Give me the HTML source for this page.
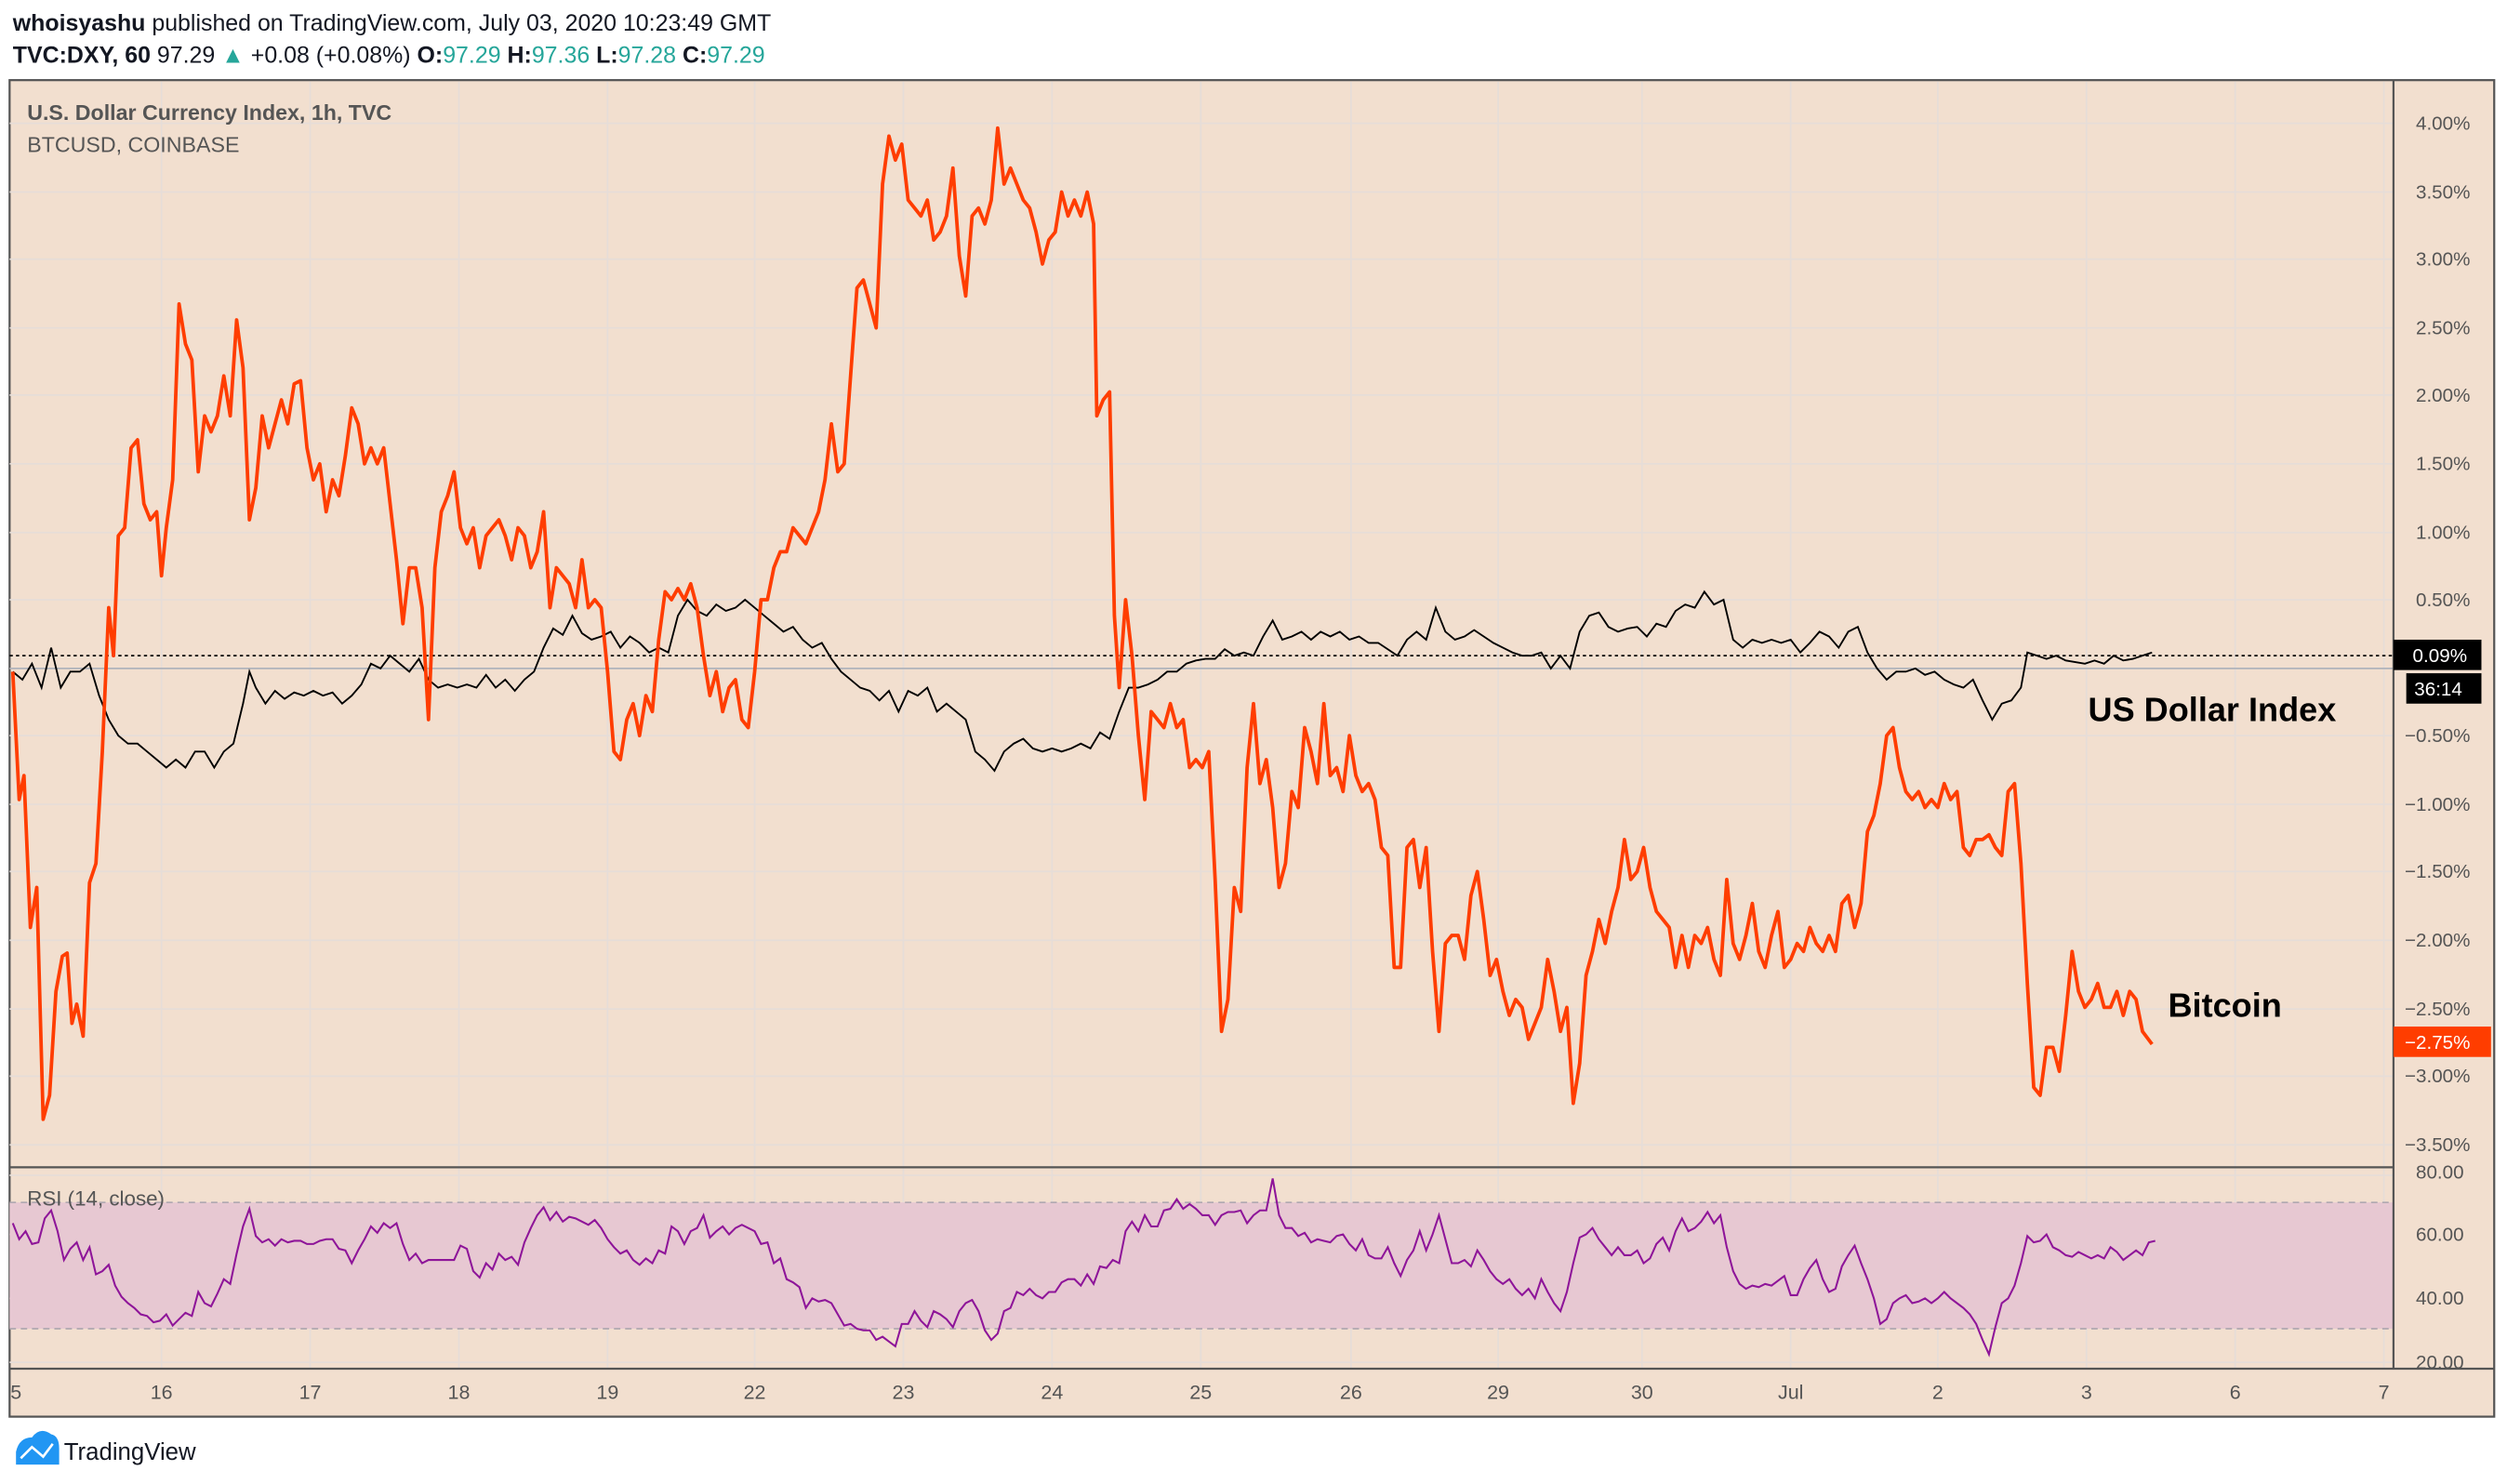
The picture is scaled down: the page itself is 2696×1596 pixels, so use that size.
<!DOCTYPE html>
<html><head><meta charset="utf-8"><style>
html,body{margin:0;padding:0;background:#fff;}
svg{display:block;}
text{font-family:"Liberation Sans",sans-serif;}
</style></head><body>
<svg width="2696" height="1596" viewBox="0 0 1568 928" xmlns="http://www.w3.org/2000/svg">
<rect width="1568" height="928" fill="#fff"/>
<text x="8" y="19" font-size="14.5" fill="#131722"><tspan font-weight="bold">whoisyashu</tspan> published on TradingView.com, July 03, 2020 10:23:49 GMT</text>
<text x="8" y="39" font-size="14.5" fill="#131722"><tspan font-weight="bold">TVC:DXY, 60</tspan> 97.29 <tspan fill="#26a69a">▲</tspan> +0.08 (+0.08%) <tspan font-weight="bold">O:</tspan><tspan fill="#26a69a">97.29</tspan> <tspan font-weight="bold">H:</tspan><tspan fill="#26a69a">97.36</tspan> <tspan font-weight="bold">L:</tspan><tspan fill="#26a69a">97.28</tspan> <tspan font-weight="bold">C:</tspan><tspan fill="#26a69a">97.29</tspan></text>
<rect x="6" y="50" width="1554" height="836" fill="#f2dfcf" stroke="#555" stroke-width="1.3"/>
<g stroke="#e6ddd8" stroke-width="1">
<line x1="101" y1="51" x2="101" y2="856"/><line x1="194" y1="51" x2="194" y2="856"/><line x1="287" y1="51" x2="287" y2="856"/><line x1="380" y1="51" x2="380" y2="856"/><line x1="472" y1="51" x2="472" y2="856"/><line x1="565" y1="51" x2="565" y2="856"/><line x1="658" y1="51" x2="658" y2="856"/><line x1="751" y1="51" x2="751" y2="856"/><line x1="845" y1="51" x2="845" y2="856"/><line x1="937" y1="51" x2="937" y2="856"/><line x1="1027" y1="51" x2="1027" y2="856"/><line x1="1120" y1="51" x2="1120" y2="856"/><line x1="1212" y1="51" x2="1212" y2="856"/><line x1="1305" y1="51" x2="1305" y2="856"/><line x1="1398" y1="51" x2="1398" y2="856"/><line x1="1491" y1="51" x2="1491" y2="856"/>
<line x1="6" y1="77" x2="1497" y2="77"/><line x1="6" y1="120" x2="1497" y2="120"/><line x1="6" y1="162" x2="1497" y2="162"/><line x1="6" y1="205" x2="1497" y2="205"/><line x1="6" y1="247" x2="1497" y2="247"/><line x1="6" y1="290" x2="1497" y2="290"/><line x1="6" y1="333" x2="1497" y2="333"/><line x1="6" y1="375" x2="1497" y2="375"/><line x1="6" y1="460" x2="1497" y2="460"/><line x1="6" y1="503" x2="1497" y2="503"/><line x1="6" y1="545" x2="1497" y2="545"/><line x1="6" y1="588" x2="1497" y2="588"/><line x1="6" y1="631" x2="1497" y2="631"/><line x1="6" y1="673" x2="1497" y2="673"/><line x1="6" y1="716" x2="1497" y2="716"/>
<line x1="6" y1="735" x2="1497" y2="735"/><line x1="6" y1="772" x2="1497" y2="772"/><line x1="6" y1="812" x2="1497" y2="812"/><line x1="6" y1="852" x2="1497" y2="852"/>
</g>
<line x1="6" y1="418" x2="1497" y2="418" stroke="#b0b3bb" stroke-width="1"/>
<line x1="6" y1="410" x2="1497" y2="410" stroke="#000" stroke-width="1" stroke-dasharray="2,2"/>
<text x="17" y="75" font-size="13.5" font-weight="bold" fill="#555">U.S. Dollar Currency Index, 1h, TVC</text>
<text x="17" y="95" font-size="13.5" fill="#555">BTCUSD, COINBASE</text>
<!-- RSI pane -->
<line x1="6" y1="730" x2="1497" y2="730" stroke="#555" stroke-width="1.3"/>
<rect x="6" y="752" width="1491" height="79" fill="#e7c8d2"/>
<line x1="6" y1="752" x2="1497" y2="752" stroke="#b0a8b0" stroke-dasharray="4,3"/>
<line x1="6" y1="831" x2="1497" y2="831" stroke="#b0a8b0" stroke-dasharray="4,3"/>
<text x="17" y="754" font-size="13" fill="#555">RSI (14, close)</text>
<line x1="6" y1="856" x2="1560" y2="856" stroke="#555" stroke-width="1.3"/>
<line x1="1497" y1="50" x2="1497" y2="856" stroke="#555" stroke-width="1.3"/>
<polyline fill="none" stroke="#8e1599" stroke-width="1.2" points="8,765 12,775 16,770 20,778 24,777 28,762 32,757 36,770 40,788 44,781 48,777 52,788 56,780 60,797 64,795 68,791 72,804 76,811 80,815 84,818 88,822 92,823 96,827 100,826 104,822 108,829 112,825 116,821 120,823 124,808 128,815 132,817 136,809 140,800 144,803 148,784 152,767 156,756 160,773 164,777 168,775 172,779 176,775 180,777 184,776 188,776 192,778 196,778 200,776 204,775 208,775 212,781 216,782 220,790 224,782 228,775 232,767 236,771 240,765 244,768 248,765 252,778 256,788 260,784 264,790 268,788 272,788 276,788 280,788 284,788 288,779 292,781 296,795 300,799 304,790 308,794 312,784 316,788 320,786 324,791 328,777 332,768 336,760 340,755 344,763 348,758 352,764 356,761 360,762 364,764 368,766 372,763 376,768 380,775 384,780 388,784 392,782 396,788 400,791 404,787 408,790 412,782 416,784 420,767 424,770 428,778 432,770 436,768 440,760 444,774 448,770 452,767 456,772 460,768 464,766 468,768 472,770 476,778 480,777 484,790 488,787 492,800 496,802 500,805 504,818 508,812 512,814 516,813 520,815 524,822 528,829 532,828 536,831 540,832 544,832 548,838 552,836 556,839 560,842 564,828 568,828 572,820 576,826 580,830 584,820 588,822 592,825 596,830 600,820 604,815 608,813 612,820 616,832 620,838 624,834 628,820 632,818 636,808 640,810 644,806 648,810 652,812 656,808 660,808 664,802 668,800 672,800 676,804 680,797 684,803 688,792 692,793 696,788 700,790 704,770 708,764 712,770 716,760 720,767 724,767 728,757 732,756 736,750 740,756 744,753 748,756 752,760 756,760 760,766 764,760 768,758 772,758 776,757 780,765 784,760 788,757 792,757 796,737 800,760 804,768 808,768 812,773 816,771 820,777 824,775 828,776 832,777 836,773 840,772 844,778 848,782 852,775 856,785 860,787 864,787 868,780 872,790 876,798 880,788 884,782 888,770 892,782 896,772 900,760 904,775 908,790 912,790 916,788 920,792 924,782 928,788 932,795 936,800 940,803 944,800 948,806 952,810 956,806 960,812 964,800 968,808 972,815 976,820 980,808 984,790 988,774 992,772 996,768 1000,775 1004,780 1008,785 1012,780 1016,785 1020,785 1024,782 1028,790 1032,787 1036,778 1040,774 1044,782 1048,770 1052,762 1056,770 1060,768 1064,764 1068,758 1072,765 1076,760 1080,780 1084,795 1088,803 1092,806 1096,804 1100,805 1104,803 1108,804 1112,801 1116,798 1120,810 1124,810 1128,800 1132,793 1136,788 1140,800 1144,808 1148,806 1152,792 1156,785 1160,779 1164,790 1168,800 1172,812 1176,828 1180,825 1184,815 1188,812 1192,810 1196,815 1200,814 1204,812 1208,815 1212,812 1216,808 1220,812 1224,815 1228,818 1232,822 1236,828 1240,838 1244,847 1248,830 1252,815 1256,812 1260,804 1264,790 1268,773 1272,777 1276,776 1280,772 1284,780 1288,782 1292,785 1296,786 1300,783 1304,785 1308,787 1312,785 1316,787 1320,780 1324,783 1328,788 1332,785 1336,782 1340,785 1344,777 1348,776"/>
<polyline fill="none" stroke="#000" stroke-width="1.1" points="8,420 14,425 20,415 26,430 32,405 38,430 44,420 50,420 56,415 62,435 68,450 74,460 80,465 86,465 92,470 98,475 104,480 110,475 116,480 122,470 128,470 134,480 140,470 146,465 152,440 156,420 160,430 166,440 172,432 178,437 184,433 190,435 196,432 202,435 208,433 214,440 220,435 226,428 232,415 238,418 244,410 250,415 256,420 262,412 268,425 274,430 280,428 286,430 292,428 298,430 304,422 310,430 316,425 322,432 328,425 334,420 340,405 346,393 352,397 358,385 364,396 370,400 376,398 382,395 388,405 394,398 400,402 406,408 412,405 418,408 424,385 430,375 436,382 442,385 448,378 454,382 460,380 466,375 472,380 478,385 484,390 490,395 496,392 502,400 508,405 514,402 520,412 526,420 532,425 538,430 544,432 550,438 556,432 562,445 568,432 574,435 580,430 586,445 592,440 598,445 604,450 610,470 616,475 622,482 628,470 634,465 640,462 646,468 652,470 658,468 664,470 670,468 676,465 682,468 688,458 694,462 700,445 706,430 712,430 718,428 724,425 730,420 736,420 742,415 748,413 754,412 760,412 766,406 772,410 778,408 784,410 790,398 796,388 802,400 808,398 814,395 820,400 826,395 832,398 838,395 844,400 850,398 856,402 862,402 868,406 874,410 880,400 886,395 892,400 898,380 904,395 910,400 916,398 922,394 928,398 934,402 940,405 946,408 952,410 958,410 964,408 970,418 976,410 982,418 988,395 994,385 1000,383 1006,392 1012,395 1018,393 1024,392 1030,398 1036,390 1042,392 1048,382 1054,378 1060,380 1066,370 1072,378 1078,375 1084,400 1090,405 1096,400 1102,402 1108,400 1114,402 1120,400 1126,408 1132,402 1138,395 1144,398 1150,405 1156,395 1162,392 1168,408 1174,418 1180,425 1186,420 1192,420 1198,418 1204,422 1210,420 1216,425 1222,428 1228,430 1234,425 1240,438 1246,450 1252,440 1258,438 1264,430 1268,408 1274,410 1280,412 1286,410 1292,413 1298,414 1304,415 1310,413 1316,415 1322,410 1328,413 1334,412 1340,410 1346,408"/>
<polyline fill="none" stroke="#ff3d00" stroke-width="2.2" stroke-linejoin="round" points="8,420 12,500 15,485 19,580 23,555 27,700 31,685 35,620 39,598 42,596 45,640 48,628 52,648 56,552 60,540 64,470 68,380 71,410 74,335 78,330 82,280 86,275 90,315 94,325 98,320 101,360 104,330 108,300 112,190 116,215 120,225 124,295 128,260 132,270 136,260 140,235 144,260 148,200 152,230 156,325 160,305 164,260 168,280 172,265 176,250 180,265 184,240 188,238 192,280 196,300 200,290 204,320 208,300 212,310 216,285 220,255 224,265 228,290 232,280 236,290 240,280 244,315 248,350 252,390 256,355 260,355 264,380 268,450 272,355 276,320 280,310 284,295 288,330 292,340 296,330 300,355 304,335 308,330 312,325 316,335 320,350 324,330 328,335 332,355 336,345 340,320 344,380 348,355 352,360 356,365 360,380 364,350 368,380 372,375 376,380 380,420 384,470 388,475 392,450 396,440 400,460 404,435 408,445 412,400 416,370 420,375 424,368 428,375 432,365 436,380 440,410 444,435 448,420 452,445 456,430 460,425 464,450 468,455 472,420 476,375 480,375 484,355 488,345 492,345 496,330 500,335 504,340 508,330 512,320 516,300 520,265 524,295 528,290 532,235 536,180 540,175 544,190 548,205 552,115 556,85 560,100 564,90 568,125 572,130 576,135 580,125 584,150 588,145 592,135 596,105 600,160 604,185 608,135 612,130 616,140 620,125 624,80 628,115 632,105 636,115 640,125 644,130 648,145 652,165 656,150 660,145 664,120 668,135 672,125 676,135 680,120 684,140 686,260 690,250 694,245 697,385 700,430 704,375 708,410 712,460 716,500 720,445 724,450 728,455 732,440 736,455 740,450 744,480 748,475 752,480 756,470 760,550 764,645 768,625 772,555 776,570 780,480 784,440 788,490 792,475 796,505 800,555 804,540 808,495 812,505 816,455 820,470 824,490 828,440 832,485 836,480 840,495 844,460 848,485 852,495 856,490 860,500 864,530 868,535 872,605 876,605 880,530 884,525 888,555 892,530 896,595 900,645 904,590 908,585 912,585 916,600 920,560 924,545 928,575 932,610 936,600 940,620 944,635 948,625 952,630 956,650 960,640 964,630 968,600 972,620 976,645 980,630 984,690 988,665 992,610 996,595 1000,575 1004,590 1008,570 1012,555 1016,525 1020,550 1024,545 1028,530 1032,555 1036,570 1040,575 1044,580 1048,605 1052,585 1056,605 1060,585 1064,590 1068,580 1072,600 1076,610 1080,550 1084,590 1088,600 1092,585 1096,565 1100,595 1104,605 1108,585 1112,570 1116,605 1120,600 1124,590 1128,595 1132,580 1136,590 1140,595 1144,585 1148,595 1152,565 1156,560 1160,580 1164,565 1168,520 1172,510 1176,490 1180,460 1184,455 1188,480 1192,495 1196,500 1200,495 1204,505 1208,500 1212,505 1216,490 1220,500 1224,495 1228,530 1232,535 1236,525 1240,525 1244,522 1248,530 1252,535 1256,495 1260,490 1264,540 1268,615 1272,680 1276,685 1280,655 1284,655 1288,670 1292,635 1296,595 1300,620 1304,630 1308,625 1312,615 1316,630 1320,630 1324,620 1328,635 1332,620 1336,625 1340,645 1346,653"/>
<text x="1306" y="451" font-size="21" font-weight="bold" fill="#000">US Dollar Index</text>
<text x="1356" y="636" font-size="21" font-weight="bold" fill="#000">Bitcoin</text>
<!-- price axis -->
<g font-size="12" fill="#555">
<text x="1511" y="81">4.00%</text><text x="1511" y="124">3.50%</text><text x="1511" y="166">3.00%</text><text x="1511" y="209">2.50%</text><text x="1511" y="251">2.00%</text><text x="1511" y="294">1.50%</text><text x="1511" y="337">1.00%</text><text x="1511" y="379">0.50%</text>
<text x="1504" y="464">−0.50%</text><text x="1504" y="507">−1.00%</text><text x="1504" y="549">−1.50%</text><text x="1504" y="592">−2.00%</text><text x="1504" y="635">−2.50%</text><text x="1504" y="677">−3.00%</text><text x="1504" y="720">−3.50%</text>
<text x="1511" y="737">80.00</text><text x="1511" y="776">60.00</text><text x="1511" y="816">40.00</text><text x="1511" y="856">20.00</text>
</g>
<rect x="1497" y="400" width="55" height="19" fill="#000"/>
<text x="1509" y="414" font-size="12" fill="#fff">0.09%</text>
<rect x="1505" y="421" width="47" height="19" fill="#000"/>
<text x="1510" y="435" font-size="12" fill="#fff">36:14</text>
<rect x="1497" y="642" width="61" height="19" fill="#ff3d00"/>
<text x="1504" y="656" font-size="12" fill="#fff">−2.75%</text>
<!-- time axis -->
<g font-size="12.5" fill="#555" text-anchor="middle">
<text x="10" y="875">5</text><text x="101" y="875">16</text><text x="194" y="875">17</text><text x="287" y="875">18</text><text x="380" y="875">19</text><text x="472" y="875">22</text><text x="565" y="875">23</text><text x="658" y="875">24</text><text x="751" y="875">25</text><text x="845" y="875">26</text><text x="937" y="875">29</text><text x="1027" y="875">30</text><text x="1120" y="875">Jul</text><text x="1212" y="875">2</text><text x="1305" y="875">3</text><text x="1398" y="875">6</text><text x="1491" y="875">7</text>
</g>
<!-- logo -->
<path d="M10,916 L10,908 Q12,899 20,899 Q25,892 32,897 Q37,898 37,906 L37,916 Z" fill="#2196f3"/>
<polyline points="13,912 20,905 27,911 33,903" fill="none" stroke="#fff" stroke-width="1.5"/>
<text x="40" y="913" font-size="15" fill="#131722">TradingView</text>
</svg>
</body></html>
